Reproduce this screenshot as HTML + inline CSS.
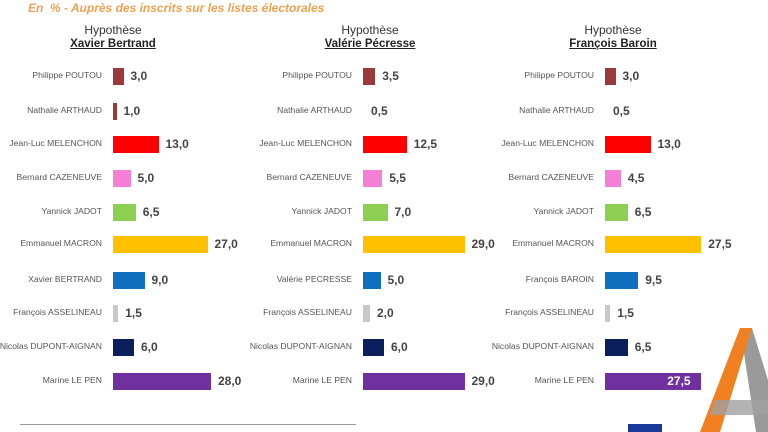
<!DOCTYPE html>
<html><head><meta charset="utf-8"><style>
body{margin:0;width:768px;height:432px;overflow:hidden;background:#fff;font-family:"Liberation Sans",sans-serif;position:relative}
.a{position:absolute;white-space:nowrap}
.lab{font-size:8.6px;color:#555;text-align:right;width:200px}
.val{font-size:12px;font-weight:bold;color:#444}
.bar{position:absolute;height:17px}
.h1{font-size:12px;color:#333;text-align:center;width:200px}
.h2{font-size:11.5px;font-weight:bold;color:#222;text-decoration:underline;text-align:center;width:200px}
</style></head><body>
<div class="a" style="left:28px;top:1px;font-size:12px;font-weight:bold;font-style:italic;color:#f0a050">En &nbsp;% - Auprès des inscrits sur les listes électorales</div>
<div id="c"></div>
<div class="a" style="left:20px;top:424px;width:336px;height:1px;background:#999"></div>
<div class="a" style="left:628px;top:424px;width:34px;height:8px;background:#1a3a9a"></div>
<svg class="a" style="left:690px;top:320px" width="78" height="112">
<polygon points="50,8 62,8 78,60 78,112 66,112 55,40" fill="#9a9a9a"/>
<polygon points="50,8 62,8 30,112 10,112" fill="#f08020"/>
<polygon points="25,80 78,80 78,95 20,95" fill="#a0a0a0" opacity="0.8"/>
</svg>
<script>
var ys=[76,111,144,178,212,244,280,313,347,381];
var P=[
{x:113,hx:113,name:"Xavier Bertrand",r:[["Philippe POUTOU",3,"#9b3a3a"],["Nathalie ARTHAUD",1,"#9b3a3a"],["Jean-Luc MELENCHON",13,"#f00"],["Bernard CAZENEUVE",5,"#f47fd6"],["Yannick JADOT",6.5,"#8ccf52"],["Emmanuel MACRON",27,"#ffc000"],["Xavier BERTRAND",9,"#1070c0"],["François ASSELINEAU",1.5,"#c8c8c8"],["Nicolas DUPONT-AIGNAN",6,"#0a1f5c"],["Marine LE PEN",28,"#7030a0"]]},
{x:363,hx:370,name:"Valérie Pécresse",r:[["Philippe POUTOU",3.5,"#9b3a3a"],["Nathalie ARTHAUD",0.5,null],["Jean-Luc MELENCHON",12.5,"#f00"],["Bernard CAZENEUVE",5.5,"#f47fd6"],["Yannick JADOT",7,"#8ccf52"],["Emmanuel MACRON",29,"#ffc000"],["Valérie PECRESSE",5,"#1070c0"],["François ASSELINEAU",2,"#c8c8c8"],["Nicolas DUPONT-AIGNAN",6,"#0a1f5c"],["Marine LE PEN",29,"#7030a0"]]},
{x:605,hx:613,name:"François Baroin",r:[["Philippe POUTOU",3,"#9b3a3a"],["Nathalie ARTHAUD",0.5,null],["Jean-Luc MELENCHON",13,"#f00"],["Bernard CAZENEUVE",4.5,"#f47fd6"],["Yannick JADOT",6.5,"#8ccf52"],["Emmanuel MACRON",27.5,"#ffc000"],["François BAROIN",9.5,"#1070c0"],["François ASSELINEAU",1.5,"#c8c8c8"],["Nicolas DUPONT-AIGNAN",6.5,"#0a1f5c"],["Marine LE PEN",27.5,"#7030a0",1]]}];
var h="";
P.forEach(function(p){
h+='<div class="a h1" style="left:'+(p.hx-100)+'px;top:23px">Hypothèse</div>';
h+='<div class="a h2" style="left:'+(p.hx-100)+'px;top:38px">'+p.name+'</div>';
p.r.forEach(function(r,i){var y=ys[i];
h+='<div class="a lab" style="left:'+(p.x-211)+'px;top:'+(y-6)+'px">'+r[0]+'</div>';
var w=r[2]?Math.max(2,r[1]*3.5):0;
if(r[2])h+='<div class="bar" style="left:'+p.x+'px;top:'+(y-8.5)+'px;width:'+w+'px;background:'+r[2]+'"></div>';
var v=r[1].toFixed(1).replace(".",",");
if(r[3])h+='<div class="a val" style="left:'+(p.x+w-34)+'px;top:'+(y-7)+'px;color:#fff">'+v+'</div>';
else h+='<div class="a val" style="left:'+(p.x+w+(r[2]?7:8))+'px;top:'+(y-7)+'px">'+v+'</div>';
});});
document.getElementById("c").innerHTML=h;
</script>
</body></html>
